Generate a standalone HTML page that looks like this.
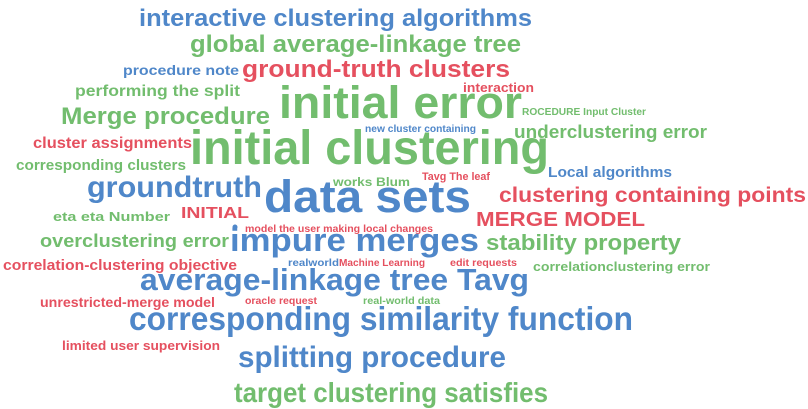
<!DOCTYPE html>
<html><head><meta charset="utf-8"><style>
html,body{margin:0;padding:0;background:#fff;width:808px;height:409px;overflow:hidden}
svg text{font-family:"Liberation Sans","DejaVu Sans",sans-serif;font-weight:bold}
.b{fill:#4f87c9}.g{fill:#72bd6e}.r{fill:#e5505f}
</style></head><body>
<svg width="808" height="409" viewBox="0 0 808 409" xmlns="http://www.w3.org/2000/svg">
<text class="b" x="139" y="26" font-size="24" textLength="393" lengthAdjust="spacingAndGlyphs">interactive clustering algorithms</text>
<text class="g" x="190" y="52" font-size="24" textLength="331" lengthAdjust="spacingAndGlyphs">global average-linkage tree</text>
<text class="r" x="242" y="77" font-size="24" textLength="268" lengthAdjust="spacingAndGlyphs">ground-truth clusters</text>
<text class="b" x="123" y="75" font-size="14" textLength="116" lengthAdjust="spacingAndGlyphs">procedure note</text>
<text class="g" x="75" y="96" font-size="16" textLength="165" lengthAdjust="spacingAndGlyphs">performing the split</text>
<text class="g" x="279" y="118" font-size="45" textLength="243" lengthAdjust="spacingAndGlyphs">initial error</text>
<text class="r" x="463" y="92" font-size="13" textLength="71" lengthAdjust="spacingAndGlyphs">interaction</text>
<text class="g" x="61" y="124" font-size="24" textLength="209" lengthAdjust="spacingAndGlyphs">Merge procedure</text>
<text class="g" x="522" y="115" font-size="10" textLength="124" lengthAdjust="spacingAndGlyphs">ROCEDURE Input Cluster</text>
<text class="r" x="33" y="148" font-size="16" textLength="159" lengthAdjust="spacingAndGlyphs">cluster assignments</text>
<text class="b" x="365" y="132" font-size="10" textLength="111" lengthAdjust="spacingAndGlyphs">new cluster containing</text>
<text class="g" x="514" y="138" font-size="18" textLength="193" lengthAdjust="spacingAndGlyphs">underclustering error</text>
<text class="g" x="190" y="164" font-size="48" textLength="359" lengthAdjust="spacingAndGlyphs">initial clustering</text>
<text class="g" x="16" y="170" font-size="15" textLength="170" lengthAdjust="spacingAndGlyphs">corresponding clusters</text>
<text class="b" x="87" y="197" font-size="30" textLength="175" lengthAdjust="spacingAndGlyphs">groundtruth</text>
<text class="g" x="333" y="186" font-size="12" textLength="77" lengthAdjust="spacingAndGlyphs">works Blum</text>
<text class="r" x="422" y="180" font-size="11" textLength="68" lengthAdjust="spacingAndGlyphs">Tavg The leaf</text>
<text class="b" x="548" y="177" font-size="15" textLength="124" lengthAdjust="spacingAndGlyphs">Local algorithms</text>
<text class="b" x="264" y="212" font-size="45" textLength="207" lengthAdjust="spacingAndGlyphs">data sets</text>
<text class="r" x="499" y="202" font-size="21" textLength="307" lengthAdjust="spacingAndGlyphs">clustering containing points</text>
<text class="r" x="181" y="218" font-size="16" textLength="68" lengthAdjust="spacingAndGlyphs">INITIAL</text>
<text class="g" x="53" y="221" font-size="13" textLength="117" lengthAdjust="spacingAndGlyphs">eta eta Number</text>
<text class="r" x="476" y="226" font-size="20" textLength="169" lengthAdjust="spacingAndGlyphs">MERGE MODEL</text>
<circle cx="235" cy="227" r="2.5" fill="#4f87c9"/>
<text class="r" x="245" y="232" font-size="10" textLength="188" lengthAdjust="spacingAndGlyphs">model the user making local changes</text>
<text class="g" x="40" y="247" font-size="18" textLength="189" lengthAdjust="spacingAndGlyphs">overclustering error</text>
<text class="b" x="230" y="251" font-size="32" textLength="249" lengthAdjust="spacingAndGlyphs">impure merges</text>
<text class="g" x="486" y="250" font-size="22" textLength="195" lengthAdjust="spacingAndGlyphs">stability property</text>
<text class="r" x="3" y="270" font-size="15" textLength="234" lengthAdjust="spacingAndGlyphs">correlation-clustering objective</text>
<text class="b" x="288" y="266" font-size="10" textLength="51" lengthAdjust="spacingAndGlyphs">realworld</text>
<text class="r" x="339" y="266" font-size="10" textLength="86" lengthAdjust="spacingAndGlyphs">Machine Learning</text>
<text class="r" x="450" y="266" font-size="10" textLength="67" lengthAdjust="spacingAndGlyphs">edit requests</text>
<text class="g" x="533" y="271" font-size="13" textLength="177" lengthAdjust="spacingAndGlyphs">correlationclustering error</text>
<text class="b" x="140" y="290" font-size="31" textLength="389" lengthAdjust="spacingAndGlyphs">average-linkage tree Tavg</text>
<text class="r" x="40" y="307" font-size="14" textLength="175" lengthAdjust="spacingAndGlyphs">unrestricted-merge model</text>
<text class="r" x="245" y="304" font-size="10" textLength="72" lengthAdjust="spacingAndGlyphs">oracle request</text>
<text class="g" x="363" y="304" font-size="10" textLength="77" lengthAdjust="spacingAndGlyphs">real-world data</text>
<text class="b" x="129" y="330" font-size="33" textLength="504" lengthAdjust="spacingAndGlyphs">corresponding similarity function</text>
<text class="r" x="62" y="350" font-size="13" textLength="158" lengthAdjust="spacingAndGlyphs">limited user supervision</text>
<text class="b" x="238" y="367" font-size="30" textLength="268" lengthAdjust="spacingAndGlyphs">splitting procedure</text>
<text class="g" x="234" y="402" font-size="28" textLength="314" lengthAdjust="spacingAndGlyphs">target clustering satisfies</text>
</svg>
</body></html>
